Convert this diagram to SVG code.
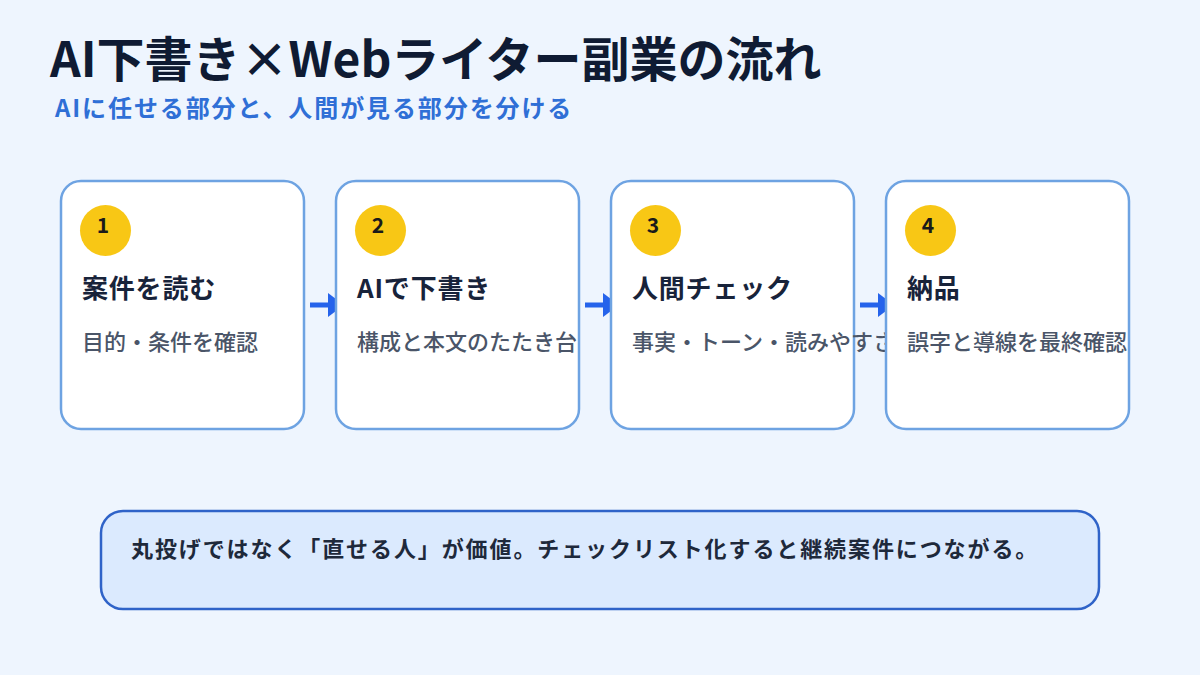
<svg xmlns="http://www.w3.org/2000/svg" width="1200" height="675" viewBox="0 0 1200 675">
  <defs>
    <style>
      text { font-family: "Noto Sans CJK JP", "Noto Sans", sans-serif; }
      .title { font-size: 48px; font-weight: 700; fill: #0f1b33; }
      .sub { font-size: 24px; font-weight: 700; fill: #2f6fd6; letter-spacing: 1.9px; }
      .card { fill: #ffffff; stroke: #6ea3e2; stroke-width: 2.5; }
      .badge { fill: #f8c715; }
      .num { font-size: 21px; font-weight: 700; fill: #1a1a1a; text-anchor: middle; }
      .head { font-size: 26px; font-weight: 700; fill: #18233a; letter-spacing: 0.8px; }
      .desc { font-size: 22px; font-weight: 500; fill: #4a5568; }
      .conn { stroke: #2563eb; stroke-width: 5; fill: none; }
      .note { fill: #dbeafe; stroke: #2f63c8; stroke-width: 2.5; }
      .notetext { font-size: 22px; font-weight: 700; fill: #1e293b; letter-spacing: 1.9px; }
    </style>
    <marker id="arr" viewBox="0 0 16 24" refX="0" refY="12" markerWidth="3.2" markerHeight="4.8" orient="auto" markerUnits="strokeWidth">
      <path d="M0,0 L16,12 L0,24 z" fill="#2563eb"/>
    </marker>
  </defs>
  <rect width="1200" height="675" fill="#eef5fe"/>

  <text class="title" x="50" y="77">AI下書き×Webライター副業の流れ</text>
  <text class="sub" x="55" y="117">AIに任せる部分と、人間が見る部分を分ける</text>

  <g id="connectors">
    <line class="conn" x1="310" y1="305" x2="328" y2="305" marker-end="url(#arr)"/>
    <line class="conn" x1="585" y1="305" x2="603" y2="305" marker-end="url(#arr)"/>
    <line class="conn" x1="860" y1="305" x2="878" y2="305" marker-end="url(#arr)"/>
  </g>

  <g id="node1">
    <rect class="card" x="61" y="181" width="243" height="248" rx="20"/>
    <circle class="badge" cx="105.5" cy="230.5" r="25.5"/>
    <text class="num" x="103" y="233">1</text>
    <text class="head" x="82" y="298">案件を読む</text>
    <text class="desc" x="82" y="350">目的・条件を確認</text>
  </g>
  <g id="node2">
    <rect class="card" x="336" y="181" width="243" height="248" rx="20"/>
    <circle class="badge" cx="380.5" cy="230.5" r="25.5"/>
    <text class="num" x="378" y="233">2</text>
    <text class="head" x="357" y="298">AIで下書き</text>
    <text class="desc" x="357" y="350">構成と本文のたたき台</text>
  </g>
  <g id="node3">
    <rect class="card" x="611" y="181" width="243" height="248" rx="20"/>
    <circle class="badge" cx="655.5" cy="230.5" r="25.5"/>
    <text class="num" x="653" y="233">3</text>
    <text class="head" x="632" y="298">人間チェック</text>
    <text class="desc" x="632" y="350">事実・トーン・読みやすさ</text>
  </g>
  <g id="node4">
    <rect class="card" x="886" y="181" width="243" height="248" rx="20"/>
    <circle class="badge" cx="930.5" cy="230.5" r="25.5"/>
    <text class="num" x="928" y="233">4</text>
    <text class="head" x="907" y="298">納品</text>
    <text class="desc" x="907" y="350">誤字と導線を最終確認</text>
  </g>

  <g id="note">
    <rect class="note" x="101" y="511" width="998" height="98" rx="22"/>
    <text class="notetext" x="131" y="557">丸投げではなく「直せる人」が価値。チェックリスト化すると継続案件につながる。</text>
  </g>
</svg>
